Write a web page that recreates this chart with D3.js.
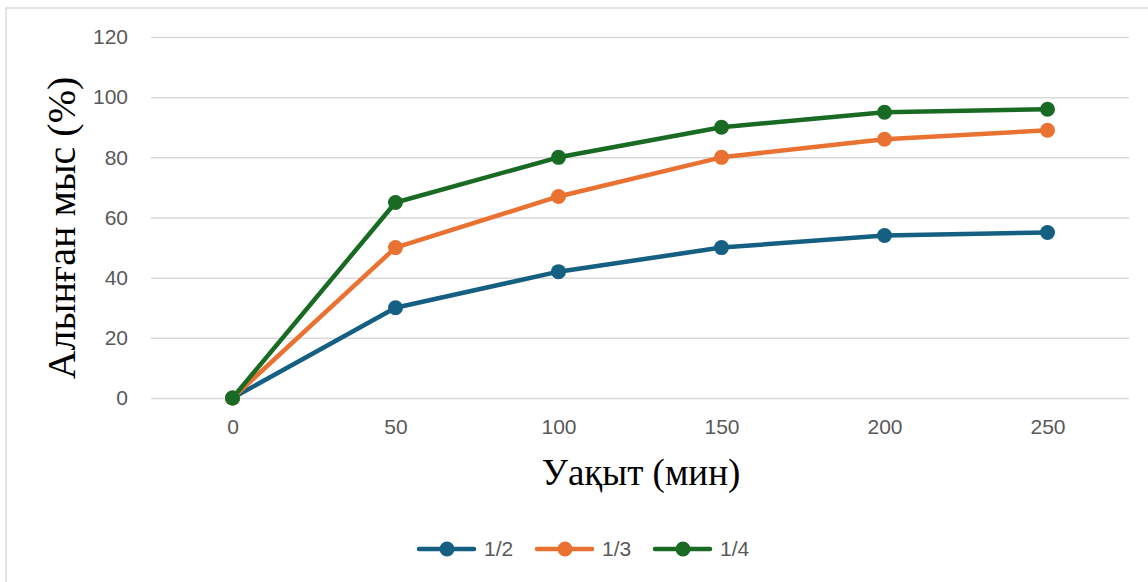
<!DOCTYPE html>
<html>
<head>
<meta charset="utf-8">
<script src="https://cdn.jsdelivr.net/npm/d3@7"></script>
<style>
  html, body { margin: 0; padding: 0; background: #ffffff; }
  svg { display: block; }
</style>
</head>
<body>
<svg id="chart" width="1148" height="582"></svg>
<script>
// Time points (minutes) and copper recovery (%) for each ratio
const categories = ["0", "50", "100", "150", "200", "250"];
const seriesNames = ["1/2", "1/3", "1/4"];
const values12 = [0, 30, 42, 50, 54, 55];
const values13 = [0, 50, 67, 80, 86, 89];
const values14 = [0, 65, 80, 90, 95, 96];
const yTicks = [0, 20, 40, 60, 80, 100, 120];
const seriesColors = ["#156082", "#E97132", "#196B24"];

const series = [
  { name: seriesNames[0], values: values12, color: seriesColors[0] },
  { name: seriesNames[1], values: values13, color: seriesColors[1] },
  { name: seriesNames[2], values: values14, color: seriesColors[2] }
];

const svg = d3.select("#chart");

// outer frame of the chart area
svg.append("path")
  .attr("d", "M6,582 L6,8 L1148,8")
  .attr("fill", "none")
  .attr("stroke", "#d9d9d9")
  .attr("stroke-width", 1.5);

const plot = { left: 151, right: 1129, top: 37, bottom: 398 };

const x = d3.scalePoint()
  .domain(categories)
  .range([plot.left, plot.right])
  .padding(0.5);

const y = d3.scaleLinear()
  .domain([0, 120])
  .range([plot.bottom, plot.top]);

// horizontal gridlines + y labels
const yAxis = d3.axisLeft(y)
  .tickValues(yTicks)
  .tickSize(-(plot.right - plot.left))
  .tickPadding(23);

const gy = svg.append("g")
  .attr("transform", `translate(${plot.left},0)`)
  .call(yAxis);
gy.select(".domain").remove();
gy.selectAll(".tick line")
  .attr("stroke", "#d9d9d9")
  .attr("stroke-width", 1.5);
gy.selectAll(".tick text")
  .attr("fill", "#595959")
  .style("font-family", "'Liberation Sans', Arial, sans-serif")
  .style("font-size", "21px");

// x labels
const xAxis = d3.axisBottom(x).tickSize(0).tickPadding(21);
const gx = svg.append("g")
  .attr("transform", `translate(0,${plot.bottom})`)
  .call(xAxis);
gx.select(".domain").remove();
gx.selectAll(".tick text")
  .attr("fill", "#595959")
  .style("font-family", "'Liberation Sans', Arial, sans-serif")
  .style("font-size", "21px");

// lines and markers
const line = d3.line()
  .x((d, i) => x(categories[i]))
  .y(d => y(d));

const gSeries = svg.append("g");
series.forEach(s => {
  gSeries.append("path")
    .datum(s.values)
    .attr("d", line)
    .attr("fill", "none")
    .attr("stroke", s.color)
    .attr("stroke-width", 4.5)
    .attr("stroke-linejoin", "round")
    .attr("stroke-linecap", "round");
});
series.forEach(s => {
  gSeries.selectAll(null)
    .data(s.values)
    .enter().append("circle")
    .attr("cx", (d, i) => x(categories[i]))
    .attr("cy", d => y(d))
    .attr("r", 7.5)
    .attr("fill", s.color);
});

// axis titles
svg.append("text")
  .attr("x", 641)
  .attr("y", 485)
  .attr("text-anchor", "middle")
  .attr("fill", "#000")
  .style("font-family", "'Liberation Serif', 'Times New Roman', serif")
  .style("font-size", "37px")
  .text("Уақыт (мин)");

svg.append("text")
  .attr("transform", "translate(75,228) rotate(-90)")
  .attr("text-anchor", "middle")
  .attr("fill", "#000")
  .style("font-family", "'Liberation Serif', 'Times New Roman', serif")
  .style("font-size", "40px")
  .text("Алынған мыс (%)");

// legend
const legend = svg.append("g").attr("transform", "translate(419,549)");
series.forEach((s, i) => {
  const g = legend.append("g").attr("transform", `translate(${i * 118},0)`);
  g.append("line")
    .attr("x1", 0).attr("x2", 55)
    .attr("y1", 0).attr("y2", 0)
    .attr("stroke", s.color)
    .attr("stroke-width", 4.5)
    .attr("stroke-linecap", "round");
  g.append("circle")
    .attr("cx", 28).attr("cy", 0).attr("r", 7.5)
    .attr("fill", s.color);
  g.append("text")
    .attr("x", 65).attr("y", 0)
    .attr("dy", "0.35em")
    .attr("fill", "#595959")
    .style("font-family", "'Liberation Sans', Arial, sans-serif")
    .style("font-size", "21px")
    .text(s.name);
});
</script>
</body>
</html>
